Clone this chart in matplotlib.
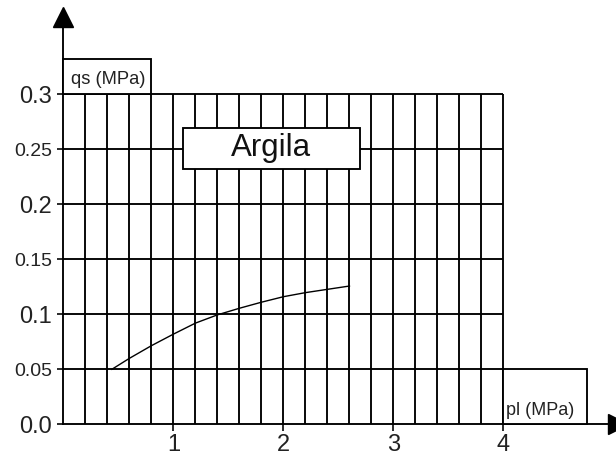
import numpy as np
import matplotlib
matplotlib.use("Agg")
import matplotlib.pyplot as plt
from matplotlib.patches import Rectangle

plt.rcParams['font.family'] = ['Liberation Sans', 'DejaVu Sans']

# curve qs = f(pl) for clay ("Argila")
pl = [0.44, 0.6, 0.8, 1.0, 1.2, 1.4, 1.6, 1.8, 2.0, 2.2, 2.4, 2.6]
qs = [0.050, 0.060, 0.0715, 0.082, 0.092, 0.0995, 0.1055, 0.111, 0.116, 0.1197, 0.1227, 0.1257]

y_ticks = [0.0, 0.05, 0.1, 0.15, 0.2, 0.25, 0.3]
y_labels = ['0.0', '0.05', '0.1', '0.15', '0.2', '0.25', '0.3']
x_ticks = [1, 2, 3, 4]
x_labels = ['1', '2', '3', '4']
x_grid = np.arange(0.2, 4.01, 0.2)

fig = plt.figure(figsize=(6.16, 4.55), dpi=100)
ax = fig.add_axes([0, 0, 1, 1])
ax.set_xlim(-0.577, 5.023)
ax.set_ylim(-0.0279, 0.3857)

lw = 1.35
ink = 'black'

# grid
ax.vlines(x_grid, 0, 0.3, color=ink, lw=lw, zorder=1)
ax.hlines(y_ticks[1:], 0, 4, color=ink, lw=lw, zorder=1)

# curve
ax.plot(pl, qs, color=ink, lw=1.0, zorder=2)

# axes spines through origin
for s in ['top', 'right']:
    ax.spines[s].set_visible(False)
ax.spines['left'].set_position(('data', 0))
ax.spines['bottom'].set_position(('data', 0))
ax.spines['left'].set_bounds(0, 0.366)
ax.spines['bottom'].set_bounds(0, 5.03)
ax.spines['left'].set_linewidth(lw)
ax.spines['bottom'].set_linewidth(lw)

ax.set_yticks(y_ticks)
ax.set_yticklabels(y_labels)
ax.set_xticks(x_ticks)
ax.set_xticklabels(x_labels)
ax.tick_params(axis='y', direction='out', length=4.3, width=lw, pad=4, colors='#222')
ax.tick_params(axis='x', direction='out', length=5, width=lw, pad=2, colors='#222', labelsize=17)
for t, lab in zip(ax.get_yticklabels(), y_labels):
    t.set_fontsize(17 if len(lab) == 3 else 14)

# arrow heads
ax.plot([0], [0.3707], marker='^', ms=14, color=ink, clip_on=False, zorder=5)
ax.plot([5.045], [0], marker='>', ms=14, color=ink, clip_on=False, zorder=5)

# label boxes
ax.add_patch(Rectangle((0, 0.3), 0.8, 0.032, fc='white', ec=ink, lw=lw, zorder=3))
ax.text(0.07, 0.3137, 'qs (MPa)', fontsize=13.2, va='center', ha='left', color='#222', zorder=4)

ax.add_patch(Rectangle((4.0, 0), 0.76, 0.05, fc='white', ec=ink, lw=lw, zorder=3))
ax.text(4.025, 0.0127, 'pl (MPa)', fontsize=13, va='center', ha='left', color='#222', zorder=4)

ax.add_patch(Rectangle((1.086, 0.232), 1.609, 0.0374, fc='white', ec=ink, lw=lw, zorder=3))
ax.text(1.89, 0.2515, 'Argila', fontsize=22.5, va='center', ha='center', color='#111', zorder=4)

fig.savefig('out.png', dpi=100)
